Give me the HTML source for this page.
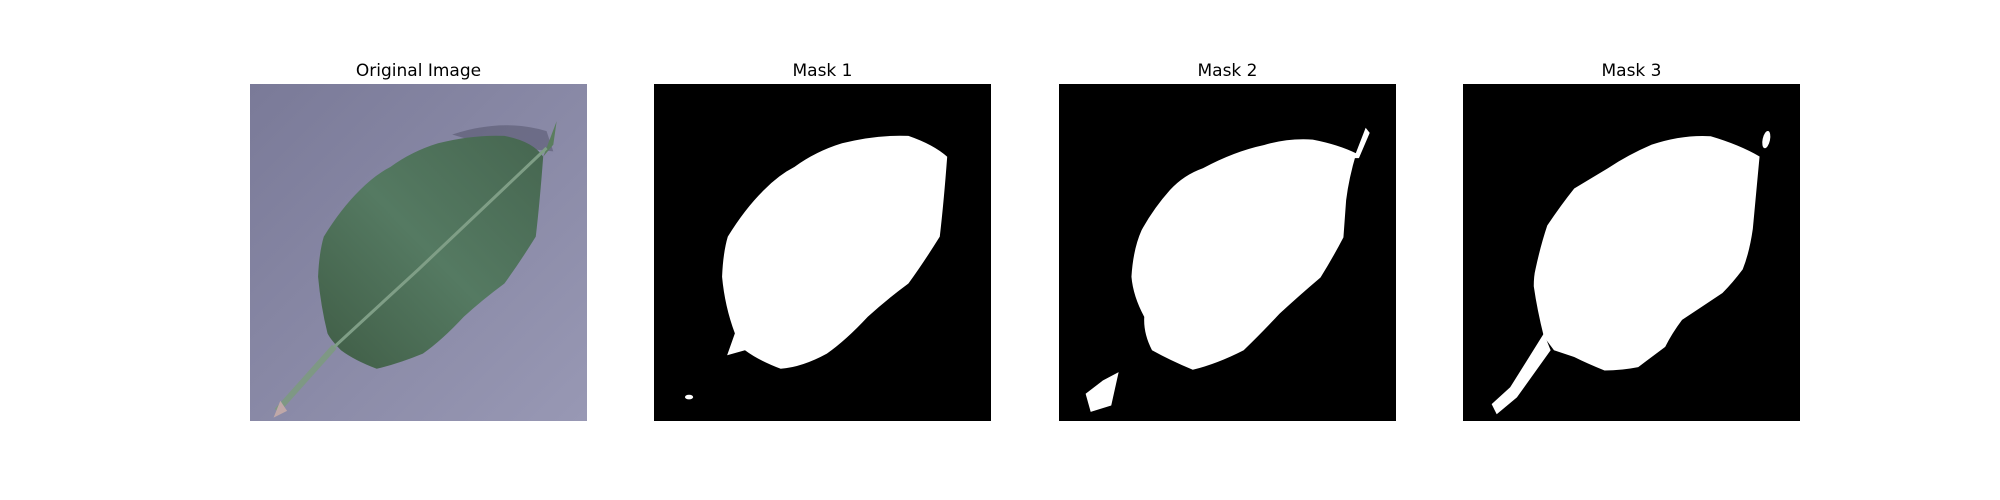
<!DOCTYPE html>
<html><head><meta charset="utf-8"><style>
body{margin:0;width:2000px;height:500px;background:#fff;position:relative;overflow:hidden;font-family:"Liberation Sans","DejaVu Sans",sans-serif}
.t{position:absolute;top:61px;width:337px;text-align:center;font-size:17px;color:#000;font-family:"DejaVu Sans",sans-serif}
svg{position:absolute;top:84px;width:337px;height:337px}
</style></head><body>
<div class="t" style="left:250px">Original Image</div>
<div class="t" style="left:654px">Mask 1</div>
<div class="t" style="left:1059px">Mask 2</div>
<div class="t" style="left:1463px">Mask 3</div>

<svg style="left:250px" viewBox="0 0 100 100" preserveAspectRatio="none">
<defs><linearGradient id="bg" x1="0" y1="0" x2="1" y2="1"><stop offset="0" stop-color="#7a7a98"/><stop offset="1" stop-color="#9898b4"/></linearGradient>
<linearGradient id="lf" x1="0" y1="1" x2="1" y2="0"><stop offset="0" stop-color="#3f5c45"/><stop offset="0.5" stop-color="#557a62"/><stop offset="1" stop-color="#466650"/></linearGradient></defs>
<rect width="100" height="100" fill="url(#bg)"/>
<path d="M60 15 Q75 10 88 14 L90 20 L70 18 Z" fill="#2a2a40" opacity="0.3"/>
<path d="M75.5 15.4 Q84 17 87 21.6 Q86 35 84.8 45.3 Q80 53 75.5 59.2 Q69 64 63.4 69.1 Q57 76 51.3 80 Q44 83 37.6 84.5 Q31 82 27 79 Q24 76 23 74 Q21 66 20.2 57.2 Q20.5 50 21.9 45.3 Q27 37 32.6 31.5 Q37 27 41.7 24.6 Q48 20 55.8 17.6 Q66 15 75.5 15.4 Z" fill="url(#lf)"/>
<path d="M87 21.6 L91 11 L90 18 Z" fill="#5a7d5e"/>
<path d="M88 19 L50 55 L25 78" stroke="#7f9e86" stroke-width="0.9" fill="none"/>
<path d="M25 78 L8 97" stroke="#7e9884" stroke-width="1.8" fill="none"/>
<path d="M9 94 L7 99 L11 97 Z" fill="#c0a8a8"/>
</svg>

<svg style="left:654px" viewBox="0 0 100 100" preserveAspectRatio="none">
<rect width="100" height="100" fill="#000"/>
<path d="M75.5 15.4 Q83 18 87 21.6 Q86 35 84.8 45.3 Q80 53 75.5 59.2 Q69 64 63.4 69.1 Q57 76 51.3 80 Q44 84 37.6 84.5 Q31 82 27 79 L21.7 80.5 L24 74 Q21 66 20.2 57.2 Q20.5 50 21.9 45.3 Q27 37 32.6 31.5 Q37 27 41.7 24.6 Q48 20 55.8 17.6 Q66 15 75.5 15.4 Z" fill="#fff"/>
<ellipse cx="10.4" cy="92.9" rx="1.2" ry="0.7" fill="#fff"/>
</svg>

<svg style="left:1059px" viewBox="0 0 100 100" preserveAspectRatio="none">
<rect width="100" height="100" fill="#000"/>
<path d="M75.3 16.5 Q83 18 88.2 20.6 Q86 28 85.2 34.5 L84.4 45.5 Q81 52 77.6 57.4 Q71 63 65.5 68.1 Q60 74 54.8 79 Q47 83 39.7 84.8 Q33 82 27.6 79 Q25 74 25.3 69.1 Q22 63 21.5 57.2 Q22 49 24.5 43.4 Q28 37 32.9 31.5 Q37 27 42.7 25 Q52 20 60.9 18.1 Q68 16 75.3 16.5 Z" fill="#fff"/>
<path d="M87.5 22 L91 13 L92.2 14.5 L89 22 Z" fill="#fff"/>
<path d="M7.9 91.9 L13 88 L17.7 85.5 L15.5 95.4 L9.4 97.3 Z" fill="#fff"/>
</svg>

<svg style="left:1463px" viewBox="0 0 100 100" preserveAspectRatio="none">
<rect width="100" height="100" fill="#000"/>
<path d="M73.5 15.5 Q82 18 88 21.5 L86 43 Q85 50 83 55 Q80 59 77 62 Q71 66 65 70 Q62 74 60 78 Q56 81 52 84 Q47 85 42 85 Q37 83 33 81 L27 79 L24 75 Q22 67 21 60 Q21 57 21.5 55 Q23 48 25 42 Q29 36 33 31 Q38 28 43 25 Q49 21 56 18 Q65 15 73.5 15.5 Z" fill="#fff"/>
<path d="M24 74 L26 79 L16 93 L10 98 L8.5 95 L14 90 Z" fill="#fff"/>
<ellipse cx="90" cy="16.5" rx="1.1" ry="2.6" fill="#fff" transform="rotate(12 90 16.5)"/>
</svg>
</body></html>
